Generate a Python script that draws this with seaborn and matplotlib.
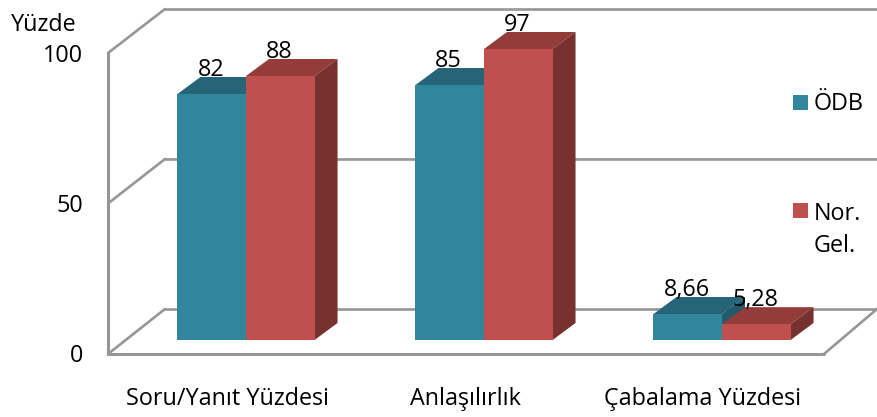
import matplotlib
matplotlib.use("Agg")
import matplotlib.pyplot as plt
import pandas as pd
import seaborn as sns
from matplotlib.patches import Polygon, Rectangle

# values
categories = ["Soru/Yanıt Yüzdesi", "Anlaşılırlık", "Çabalama Yüzdesi"]
odb = [82, 85, 8.66]
nor_gel = [88, 97, 5.28]
series_names = ["ÖDB", "Nor. Gel."]
y_ticks = [0, 50, 100]

front = ["#31859C", "#C0504D"]
top = ["#266477", "#933C39"]
side = ["#215A6C", "#77322F"]
wall = "#969696"

df = pd.DataFrame({
    "kategori": categories * 2,
    "yuzde": odb + nor_gel,
    "seri": [series_names[0]] * 3 + [series_names[1]] * 3,
})

W, H = 877, 417
sns.set_theme(style="white")
plt.rcParams["font.family"] = ["Open Sans", "DejaVu Sans"]
FS = 16.8

fig = plt.figure(figsize=(W / 100, H / 100), dpi=100)
ax = fig.add_axes([0, 0, 1, 1])
sns.barplot(data=df, x="kategori", y="yuzde", hue="seri", palette=front, saturation=1,
            width=0.576, gap=0, legend=False, ax=ax, zorder=5)

# one category = 238 px, one percent = 3 px, same scale as the picture
ax.set_xlim(-246 / 238, (W - 246) / 238)
ax.set_ylim(-(H - 340) / 3, 340 / 3)
ax.axis("off")


def dx(px):
    return px / 238


def dy(px):
    return px / 3


# depth of the bars and of the box
bar_dx, bar_dy = dx(23), dy(17)
left, right = ax.get_xlim()
front_x = dx(108 - 246)
front_r = dx(824 - 246)
back_x = dx(165 - 246)
floor_y = dy(-14)
back_off = dy(31)

# back wall and left wall
for t in y_ticks:
    ax.plot([back_x, right], [t + back_off, t + back_off], color=wall, lw=1.9, zorder=1)
    ax.plot([front_x, back_x], [t * 1.0033 + floor_y, t + back_off], color=wall, lw=1.9, zorder=1)
    ax.text(dx(83 - 246), t + floor_y - dy(2), str(t), ha="right", va="center", fontsize=FS, color="black")
ax.plot([front_x, front_x], [floor_y, 100 * 1.0033 + floor_y], color=wall, lw=2.2, zorder=1)
ax.plot([front_x, front_r], [floor_y, floor_y], color=wall, lw=2.2, zorder=1)
ax.plot([front_r, right], [floor_y, back_off], color=wall, lw=1.9, zorder=1)

# fake 3d faces on the bars seaborn drew
for i, cont in enumerate(ax.containers):
    for bar in cont:
        x0, x1 = bar.get_x(), bar.get_x() + bar.get_width()
        h = bar.get_height()
        bar.set_edgecolor("none")
        bar.set_zorder(5 + i * 2)
        ax.add_patch(Polygon([(x0, h), (x1, h), (x1 + bar_dx, h + bar_dy), (x0 + bar_dx, h + bar_dy)],
                             facecolor=top[i], edgecolor="none", zorder=4 + i * 2))
        ax.add_patch(Polygon([(x1, 0), (x1 + bar_dx, bar_dy), (x1 + bar_dx, h + bar_dy), (x1, h)],
                             facecolor=side[i], edgecolor="none", zorder=4 + i * 2))
        label = f"{h:g}".replace(".", ",")
        ax.text((x0 + x1) / 2 - dx(1), h + dy(24), label, ha="center", va="center", fontsize=FS,
                color="black", zorder=10)

for i, name in enumerate(categories):
    ax.text(i - dx(19), dy(-59), name, ha="center", va="center", fontsize=FS, color="black")

ax.text(dx(44 - 246), dy(340 - 25), "Yüzde", ha="center", va="center", fontsize=FS, color="black")

# legend
ax.add_patch(Rectangle((dx(793 - 246), dy(340 - 110)), dx(15), dy(15), facecolor=front[0], edgecolor="none"))
ax.add_patch(Rectangle((dx(793 - 246), dy(340 - 218)), dx(15), dy(15), facecolor=front[1], edgecolor="none"))
ax.text(dx(814 - 246), dy(340 - 104), "ÖDB", ha="left", va="center", fontsize=FS, color="black")
ax.text(dx(814 - 246), dy(340 - 214), "Nor.", ha="left", va="center", fontsize=FS, color="black")
ax.text(dx(814 - 246), dy(340 - 246), "Gel.", ha="left", va="center", fontsize=FS, color="black")

fig.savefig("out.png", dpi=100)
